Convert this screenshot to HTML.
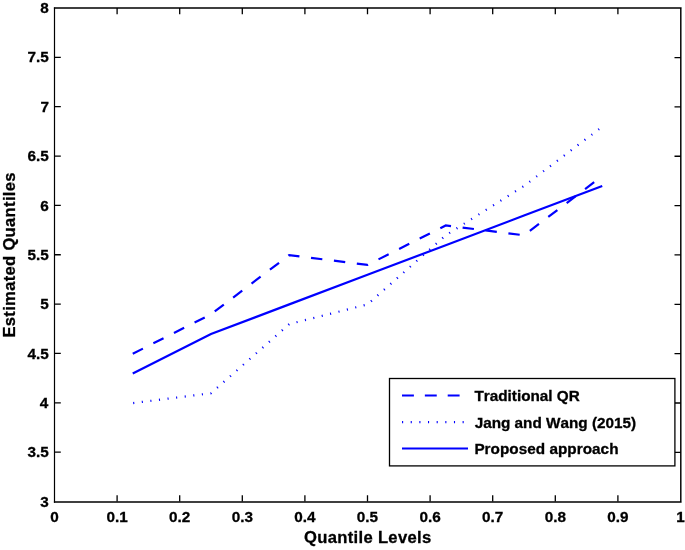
<!DOCTYPE html>
<html><head><meta charset="utf-8"><style>
html,body{margin:0;padding:0;background:#fff;}
svg{display:block;will-change:transform;}
text{font-family:"Liberation Sans",sans-serif;font-weight:bold;font-kerning:none;}
</style></head><body>
<svg width="685" height="550" viewBox="0 0 685 550">
<rect width="685" height="550" fill="#fff"/>
<g fill="none" stroke="#0000ff" stroke-width="2.2" stroke-linejoin="miter" transform="translate(0,0.3)">
<polyline points="132.75,353.45 211.00,313.97 289.25,254.75 367.50,264.62 445.75,225.14 524.00,235.01 602.25,175.79" stroke-dasharray="11.4 11.68"/>
<polyline points="132.75,402.80 211.00,392.93 289.25,323.84 367.50,304.10 445.75,235.01 524.00,185.66 602.25,126.44" stroke-dasharray="1.1 7.55" stroke-dashoffset="-0.45"/>
<polyline points="132.75,373.19 211.00,333.71 289.25,304.10 367.50,274.49 445.75,244.88 524.00,215.27 602.25,185.66"/>
</g>
<path d="M54.5,7.4V502.7" stroke="#000" stroke-width="1.2" fill="none"/>
<path d="M53.9,8.0H681.6M53.9,502.0H681.6M680.8,8.0V502.7" stroke="#000" stroke-width="1.45" fill="none"/>
<path d="M117.10,501.5v-6.3M117.10,8.0v6.3M179.70,501.5v-6.3M179.70,8.0v6.3M242.30,501.5v-6.3M242.30,8.0v6.3M304.90,501.5v-6.3M304.90,8.0v6.3M367.50,501.5v-6.3M367.50,8.0v6.3M430.10,501.5v-6.3M430.10,8.0v6.3M492.70,501.5v-6.3M492.70,8.0v6.3M555.30,501.5v-6.3M555.30,8.0v6.3M617.90,501.5v-6.3M617.90,8.0v6.3M54.5,452.15h6.3M680.8,452.35h-6.3M54.5,402.80h6.3M680.8,403.00h-6.3M54.5,353.45h6.3M680.8,353.65h-6.3M54.5,304.10h6.3M680.8,304.30h-6.3M54.5,254.75h6.3M680.8,254.95h-6.3M54.5,205.40h6.3M680.8,205.60h-6.3M54.5,156.05h6.3M680.8,156.25h-6.3M54.5,106.70h6.3M680.8,106.90h-6.3M54.5,57.35h6.3M680.8,57.55h-6.3" stroke="#000" stroke-width="1.3" fill="none"/>
<g fill="#000" stroke="#000" stroke-width="0.3">
<text x="50.25" y="522" font-size="15.3">0</text>
<text x="106.47" y="522" font-size="15.3">0.1</text>
<text x="169.07" y="522" font-size="15.3">0.2</text>
<text x="231.67" y="522" font-size="15.3">0.3</text>
<text x="294.27" y="522" font-size="15.3">0.4</text>
<text x="356.87" y="522" font-size="15.3">0.5</text>
<text x="419.47" y="522" font-size="15.3">0.6</text>
<text x="482.07" y="522" font-size="15.3">0.7</text>
<text x="544.67" y="522" font-size="15.3">0.8</text>
<text x="607.27" y="522" font-size="15.3">0.9</text>
<text x="676.25" y="522" font-size="15.3">1</text>
<text x="40.34" y="507" font-size="15.3">3</text>
<text x="27.46" y="457" font-size="15.3">3.5</text>
<text x="39.87" y="408" font-size="15.3">4</text>
<text x="27.46" y="359" font-size="15.3">4.5</text>
<text x="40.22" y="309" font-size="15.3">5</text>
<text x="27.46" y="260" font-size="15.3">5.5</text>
<text x="40.34" y="211" font-size="15.3">6</text>
<text x="27.46" y="161" font-size="15.3">6.5</text>
<text x="40.46" y="112" font-size="15.3">7</text>
<text x="27.46" y="62" font-size="15.3">7.5</text>
<text x="40.26" y="13" font-size="15.3">8</text>
</g>
<rect x="389.5" y="378.5" width="285.4" height="87.4" fill="#fff" stroke="#000" stroke-width="1.3"/>
<g stroke="#0000ff" stroke-width="2.2" fill="none">
<line x1="402" y1="395.5" x2="468" y2="395.5" stroke-dasharray="11.9 10.95"/>
<line x1="402.05" y1="422.1" x2="468" y2="422.1" stroke-dasharray="1.1 7.55"/>
<line x1="402" y1="448.5" x2="468" y2="448.5"/>
</g>
<g fill="#000" stroke="#000" stroke-width="0.3">
<text x="474.43" y="401" font-size="15.3">Traditional QR</text>
<text x="474.67" y="428" font-size="15.3">Jang and Wang (2015)</text>
<text x="474.38" y="454" font-size="15.3" letter-spacing="0.03">Proposed approach</text>
<text x="304.12" y="543" font-size="16.6" letter-spacing="0.31">Quantile Levels</text>
<g transform="translate(14.9,336.50) rotate(-90)"><text x="-1.11" y="0" font-size="16.6" letter-spacing="0.31">Estimated Quantiles</text></g>
</g>
</svg>
</body></html>
